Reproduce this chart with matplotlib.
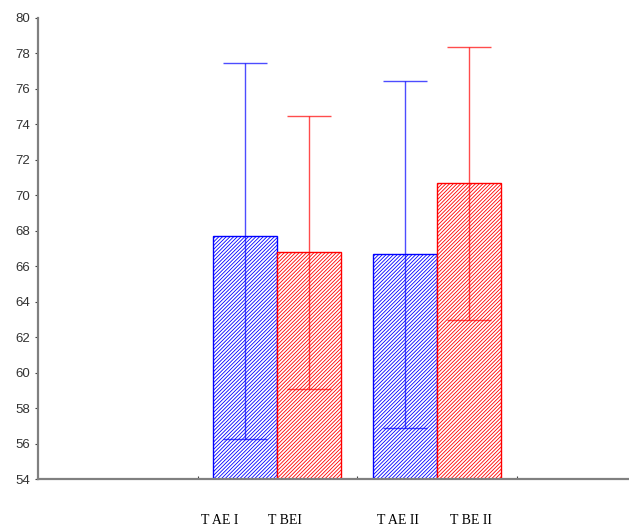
import matplotlib
matplotlib.use("Agg")
import matplotlib.pyplot as plt
import numpy as np

# groups sit between ticks 1-2 and 2-3
labels = ["T AE I", "T BEI", "T AE II", "T BE II"]
label_pos = [1.141, 1.549, 2.257, 2.715]
bar_x = [1.3, 1.7, 2.3, 2.7]
means = [67.7, 66.8, 66.7, 70.7]
err_hi = [77.45, 74.45, 76.45, 78.35]
err_lo = [56.25, 59.05, 56.9, 62.95]
colors = ["blue", "red", "blue", "red"]

plt.rcParams['hatch.linewidth'] = 0.6

fig = plt.figure(figsize=(6.29, 5.30), dpi=100)
ax = fig.add_axes([38/629, 51/530, 591/629, 461/530])

for x, m, hi, lo, c in zip(bar_x, means, err_hi, err_lo, colors):
    ax.bar(x, m - 54, bottom=54, width=0.4, facecolor="white",
           edgecolor=c, hatch="/" * 9, linewidth=1.0, zorder=2)
    ax.errorbar(x, m, yerr=[[m - lo], [hi - m]], fmt="none", ecolor=c,
                elinewidth=1.0, capsize=16, capthick=1.0, alpha=0.7, zorder=3)

ax.set_xlim(0, 3.705)
ax.set_ylim(54, 80)
ax.set_yticks(np.arange(54, 81, 2))

ax.set_xticks([1, 2, 3])
ax.set_xticklabels([])
ax.set_xticks(label_pos, minor=True)
ax.set_xticklabels(labels, minor=True, fontfamily="Liberation Serif", fontsize=10)
ax.tick_params(axis="x", which="minor", length=0, pad=25)
ax.tick_params(axis="x", which="major", direction="in", length=2, color="#404040")
ax.tick_params(axis="y", direction="out", length=2.5, color="#404040", pad=3)
for t in ax.get_yticklabels():
    t.set_fontfamily("Liberation Sans")
    t.set_fontsize(9.5)
    t.set_color("#333333")

for s in ["top", "right"]:
    ax.spines[s].set_visible(False)
for s in ["left", "bottom"]:
    ax.spines[s].set_color("#808080")
    ax.spines[s].set_linewidth(1.6)

fig.savefig("out.png", dpi=100)
